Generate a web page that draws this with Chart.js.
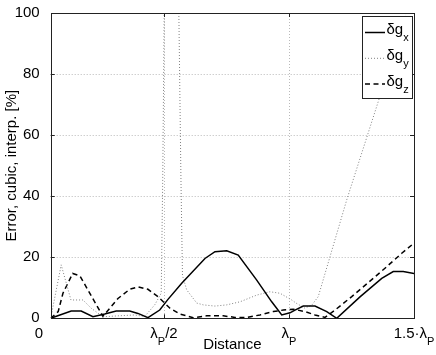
<!DOCTYPE html>
<html>
<head>
<meta charset="utf-8">
<script src="https://cdn.jsdelivr.net/npm/chart.js@4/dist/chart.umd.min.js"></script>
<style>
  html, body { margin: 0; padding: 0; background: #fff; }
  #chart { display: block; }
</style>
</head>
<body>
<canvas id="chart" width="436" height="355"></canvas>
<script>
// distance in units of lambda_P, error in %
const gxDist = [0.047, 0.129, 0.169, 0.216, 0.263, 0.309, 0.363, 0.396, 0.436, 0.483, 0.516, 0.571, 0.664, 0.704, 0.751,
                0.797, 0.871, 0.931, 0.971, 1.004, 1.024, 1.057, 1.104, 1.151, 1.191, 1.284, 1.371, 1.417, 1.457, 1.5];
const gxErr  = [0, 2.4, 2.4, 0.5, 1.4, 2.4, 2.4, 1.6, 0.2, 2.7, 6.2, 11.5, 19.6, 21.8, 22.1,
                20.7, 12.5, 5.4, 1.1, 1.8, 2.7, 4.0, 4.0, 2.2, 0, 7.0, 13.1, 15.3, 15.3, 14.7];

const gyDist = [0.047, 0.089, 0.128, 0.176, 0.209, 0.256, 0.316, 0.383, 0.423, 0.463, 0.489, 0.495, 0.502, 0.558, 0.568,
                0.574, 0.591, 0.631, 0.657, 0.704, 0.751, 0.804, 0.871, 0.924, 0.964, 1.011, 1.028, 1.064, 1.092, 1.117,
                1.231, 1.361, 1.5];
const gyErr  = [0, 17.5, 6, 6, 3.3, 0.5, 0.8, 1.1, 0.6, 4.4, 8.2, 45, 110, 110, 45,
                14, 9.3, 5.0, 4.4, 4.0, 4.4, 5.4, 7.6, 8.7, 8.2, 6.0, 5.0, 3.3, 4.4, 7.1,
                38.8, 72, 108];

const gzDist = [0.047, 0.077, 0.096, 0.135, 0.164, 0.256, 0.316, 0.363, 0.396, 0.436, 0.476, 0.524, 0.564, 0.617, 0.671,
                0.737, 0.784, 0.831, 0.884, 0.937, 0.977, 1.017, 1.064, 1.104, 1.144, 1.184, 1.251, 1.317, 1.384, 1.451, 1.5];
const gzErr  = [0, 2.2, 8.2, 14.7, 13.9, 0.6, 6.5, 9.5, 10.3, 9.5, 7.1, 3.3, 1.4, 0.2, 0.8,
                0.8, 0.3, 0.3, 1.1, 2.2, 2.7, 3.0, 2.2, 1.1, 0.3, 2.7, 7.1, 11.7, 16.4, 21.3, 24.6];

const seriesLabels = ['δg_x', 'δg_y', 'δg_z'];
const xTickValues = [0, 0.5, 1, 1.5];
const xTickLabels = ['0', 'λ_P/2', 'λ_P', '1.5·λ_P'];
const xRange = [0.047, 1.5];
const yRange = [0, 100];
const yStep = 20;

const FONT = '"Liberation Sans", Arial, Helvetica, sans-serif';

// "a_b" -> b drawn as subscript
function richParts(str) {
    return str.split(/(_.)/).filter(s => s).map(s =>
        s[0] === '_' ? { text: s.slice(1), sub: true } : { text: s, sub: false });
}

function drawRich(ctx, str, x, y, align) {
    const parts = richParts(str);
    const fontOf = p => (p.sub ? '11px ' : '15px ') + FONT;
    let total = 0;
    parts.forEach(p => { ctx.font = fontOf(p); p.w = ctx.measureText(p.text).width; total += p.w; });
    let cx = align === 'center' ? x - total / 2 : x;
    ctx.textAlign = 'left';
    ctx.textBaseline = 'alphabetic';
    parts.forEach(p => {
        ctx.font = fontOf(p);
        ctx.fillText(p.text, cx, p.sub ? y + 7 : y);
        cx += p.w;
    });
}

const matlabAxes = {
    id: 'matlabAxes',
    beforeDatasetsDraw(chart) {
        const { ctx, chartArea: a, scales: { x, y } } = chart;
        ctx.save();
        ctx.strokeStyle = '#b9b9b9';
        ctx.lineWidth = 1;
        ctx.setLineDash([1, 2]);
        ctx.beginPath();
        xTickValues.forEach(v => {
            if (v <= xRange[0] || v >= xRange[1]) return;
            const px = Math.round(x.getPixelForValue(v)) + 0.5;
            ctx.moveTo(px, a.top); ctx.lineTo(px, a.bottom);
        });
        y.ticks.forEach(t => {
            if (t.value <= yRange[0] || t.value >= yRange[1]) return;
            const py = Math.round(y.getPixelForValue(t.value)) + 0.5;
            ctx.moveTo(a.left, py); ctx.lineTo(a.right, py);
        });
        ctx.stroke();
        ctx.restore();
    },
    afterDatasetsDraw(chart) {
        const { ctx, chartArea: a, scales: { x, y } } = chart;
        ctx.save();
        ctx.strokeStyle = '#222';
        ctx.lineWidth = 1;
        ctx.strokeRect(Math.round(a.left) + 0.5, Math.round(a.top) + 0.5,
                       Math.round(a.right - a.left), Math.round(a.bottom - a.top));
        // inward tick marks on all four sides
        const len = 4;
        ctx.beginPath();
        xTickValues.forEach(v => {
            if (v <= xRange[0] || v >= xRange[1]) return;
            const px = Math.round(x.getPixelForValue(v)) + 0.5;
            ctx.moveTo(px, a.bottom); ctx.lineTo(px, a.bottom - len);
            ctx.moveTo(px, a.top); ctx.lineTo(px, a.top + len);
        });
        y.ticks.forEach(t => {
            if (t.value <= yRange[0] || t.value >= yRange[1]) return;
            const py = Math.round(y.getPixelForValue(t.value)) + 0.5;
            ctx.moveTo(a.left, py); ctx.lineTo(a.left + len, py);
            ctx.moveTo(a.right, py); ctx.lineTo(a.right - len, py);
        });
        ctx.stroke();
        ctx.restore();
    },
    afterDraw(chart) {
        const { ctx, chartArea: a, scales: { x } } = chart;
        ctx.save();
        ctx.fillStyle = '#000';
        xTickValues.forEach((v, i) => drawRich(ctx, xTickLabels[i], x.getPixelForValue(v), a.bottom + 20, 'center'));

        // legend box, top right inside the axes
        const bx = Math.round(a.right - 52) + 0.5, by = Math.round(a.top + 3) + 0.5;
        const bw = 50, bh = 82;
        ctx.fillStyle = '#fff';
        ctx.fillRect(bx, by, bw, bh);
        ctx.strokeStyle = '#222';
        ctx.lineWidth = 1;
        ctx.setLineDash([]);
        ctx.strokeRect(bx, by, bw, bh);
        chart.data.datasets.forEach((ds, i) => {
            const rowY = by + 16 + i * 25.8;
            ctx.strokeStyle = ds.borderColor;
            ctx.lineWidth = ds.borderWidth;
            ctx.setLineDash(ds.borderDash || []);
            ctx.beginPath();
            ctx.moveTo(bx + 2.5, rowY); ctx.lineTo(bx + 22.5, rowY);
            ctx.stroke();
            ctx.fillStyle = '#000';
            drawRich(ctx, ds.label, bx + 24, rowY + 1.7, 'left');
        });
        ctx.restore();
    }
};

const toPoints = (xs, ys) => xs.map((d, i) => ({ x: d, y: ys[i] }));

new Chart(document.getElementById('chart'), {
    type: 'line',
    data: {
        datasets: [
            { label: seriesLabels[0], data: toPoints(gxDist, gxErr), borderColor: '#000', borderWidth: 1.5 },
            { label: seriesLabels[1], data: toPoints(gyDist, gyErr), borderColor: '#808080', borderWidth: 1, borderDash: [1, 2] },
            { label: seriesLabels[2], data: toPoints(gzDist, gzErr), borderColor: '#000', borderWidth: 1.5, borderDash: [5, 3.5] }
        ]
    },
    options: {
        responsive: false,
        animation: false,
        devicePixelRatio: 1,
        layout: { padding: { top: 13, right: 22, left: 0, bottom: 0 } },
        elements: { point: { radius: 0 }, line: { tension: 0 } },
        scales: {
            x: {
                type: 'linear',
                min: xRange[0],
                max: xRange[1],
                grid: { display: false },
                border: { display: false },
                ticks: { display: false },
                title: { display: true, text: 'Distance', color: '#000', font: { family: FONT, size: 15 }, padding: { top: 0, bottom: 1 } },
                afterFit(scale) { scale.height = 36.7; }
            },
            y: {
                min: yRange[0],
                max: yRange[1],
                grid: { display: false },
                border: { display: false },
                ticks: { stepSize: yStep, color: '#000', padding: 3, font: { family: FONT, size: 15 } },
                title: { display: true, text: 'Error, cubic, interp. [%]', color: '#000', font: { family: FONT, size: 15 }, padding: { top: 2.5, bottom: 0 } },
                afterFit(scale) { scale.width = 50.7; }
            }
        },
        plugins: {
            legend: { display: false },
            tooltip: { enabled: false }
        }
    },
    plugins: [matlabAxes]
});
</script>
</body>
</html>
